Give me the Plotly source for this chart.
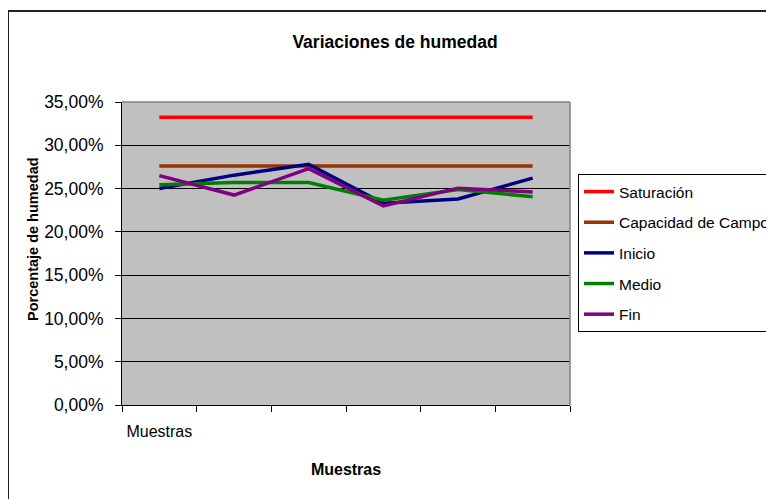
import plotly.graph_objects as go

categories = ["1", "2", "3", "4", "5", "6"]
tick_labels = ["Muestras", "", "", "", "", ""]
saturacion = [0.3325, 0.3325, 0.3325, 0.3325, 0.3325, 0.3325]
capacidad = [0.276, 0.276, 0.276, 0.276, 0.276, 0.276]
inicio = [0.250, 0.2655, 0.278, 0.233, 0.238, 0.262]
medio = [0.2545, 0.257, 0.257, 0.2365, 0.249, 0.2405]
fin = [0.265, 0.2425, 0.273, 0.230, 0.2505, 0.246]

series = [
    ("Saturación", saturacion, "#FF0000"),
    ("Capacidad de Campo", capacidad, "#993300"),
    ("Inicio", inicio, "#000080"),
    ("Medio", medio, "#008000"),
    ("Fin", fin, "#800080"),
]

FONT = "Liberation Sans, Arial, sans-serif"

fig = go.Figure()
for name, vals, col in series:
    fig.add_trace(go.Scatter(
        x=categories, y=vals, name=name, mode="lines",
        line=dict(color=col, width=3.5), legendgroup=name,
    ))

# the page has an 8px body margin, so the figure starts at (8, 8)
OFF = 8
W, H = 774 - OFF, 499 - OFF
L, R, T, B = 122 - OFF, 570 - OFF, 102 - OFF, 405 - OFF

px = lambda v: (v - 122) / (570 - 122)
py = lambda v: (405 - v) / (405 - 102)

fig.update_layout(
    width=W, height=H,
    margin=dict(l=L, r=W - R, t=T, b=H - B, autoexpand=False),
    paper_bgcolor="white", plot_bgcolor="#C0C0C0",
    separators=",.",
    font=dict(family=FONT, size=17, color="black"),
    title=dict(text="<b>Variaciones de humedad</b>", x=(395 - OFF) / W, xanchor="center",
               y=1 - (42 - OFF) / H, yanchor="middle", font=dict(size=17.5, family=FONT)),
    showlegend=True,
    legend=dict(
        x=px(578), xanchor="left",
        y=py(174), yanchor="top",
        bgcolor="white", bordercolor="black", borderwidth=1,
        font=dict(size=15.5, family=FONT),
        traceorder="grouped", tracegroupgap=7.5,
        itemwidth=30,
    ),
    xaxis=dict(
        type="category", tickmode="array", tickvals=categories, ticktext=tick_labels,
        tickson="boundaries", ticks="outside", ticklen=6, tickcolor="black",
        showline=True, linecolor="black", linewidth=1, showgrid=False,
        range=[-0.5, 5.5], tickfont=dict(size=16), tickangle=0,
        ticklabelstandoff=12,
        title=dict(text="<b>Muestras</b>", font=dict(size=16), standoff=24),
        mirror=False, zeroline=False,
    ),
    yaxis=dict(
        range=[0, 0.35], tickmode="array",
        tickvals=[0, 0.05, 0.10, 0.15, 0.20, 0.25, 0.30, 0.35],
        tickformat=".2%", ticks="outside", ticklen=6, tickcolor="black",
        showline=True, linecolor="black", linewidth=1,
        showgrid=True, gridcolor="black", gridwidth=1,
        zeroline=False, tickfont=dict(size=17.5),
        ticklabelstandoff=8,
    ),
    annotations=[dict(
        text="<b>Porcentaje de humedad</b>", textangle=-90,
        xref="paper", yref="paper", x=px(33), y=py(239),
        xanchor="center", yanchor="middle", showarrow=False,
        font=dict(size=14.5, family=FONT),
    )],
)

# plot area right/top border (gray)
fig.add_shape(type="line", xref="paper", yref="paper", x0=0, x1=1, y0=1, y1=1,
              line=dict(color="#808080", width=1.5))
fig.add_shape(type="line", xref="paper", yref="paper", x0=1, x1=1, y0=0, y1=1,
              line=dict(color="#808080", width=1.5))

# outer chart border (left and top), given in page pixels
fig.add_shape(type="line", xref="paper", yref="paper", x0=px(8), x1=px(800), y0=py(11), y1=py(11),
              line=dict(color="#222222", width=2))
fig.add_shape(type="line", xref="paper", yref="paper", x0=px(8), x1=px(8), y0=py(11), y1=py(520),
              line=dict(color="#222222", width=2))

fig.write_html("out.html")
